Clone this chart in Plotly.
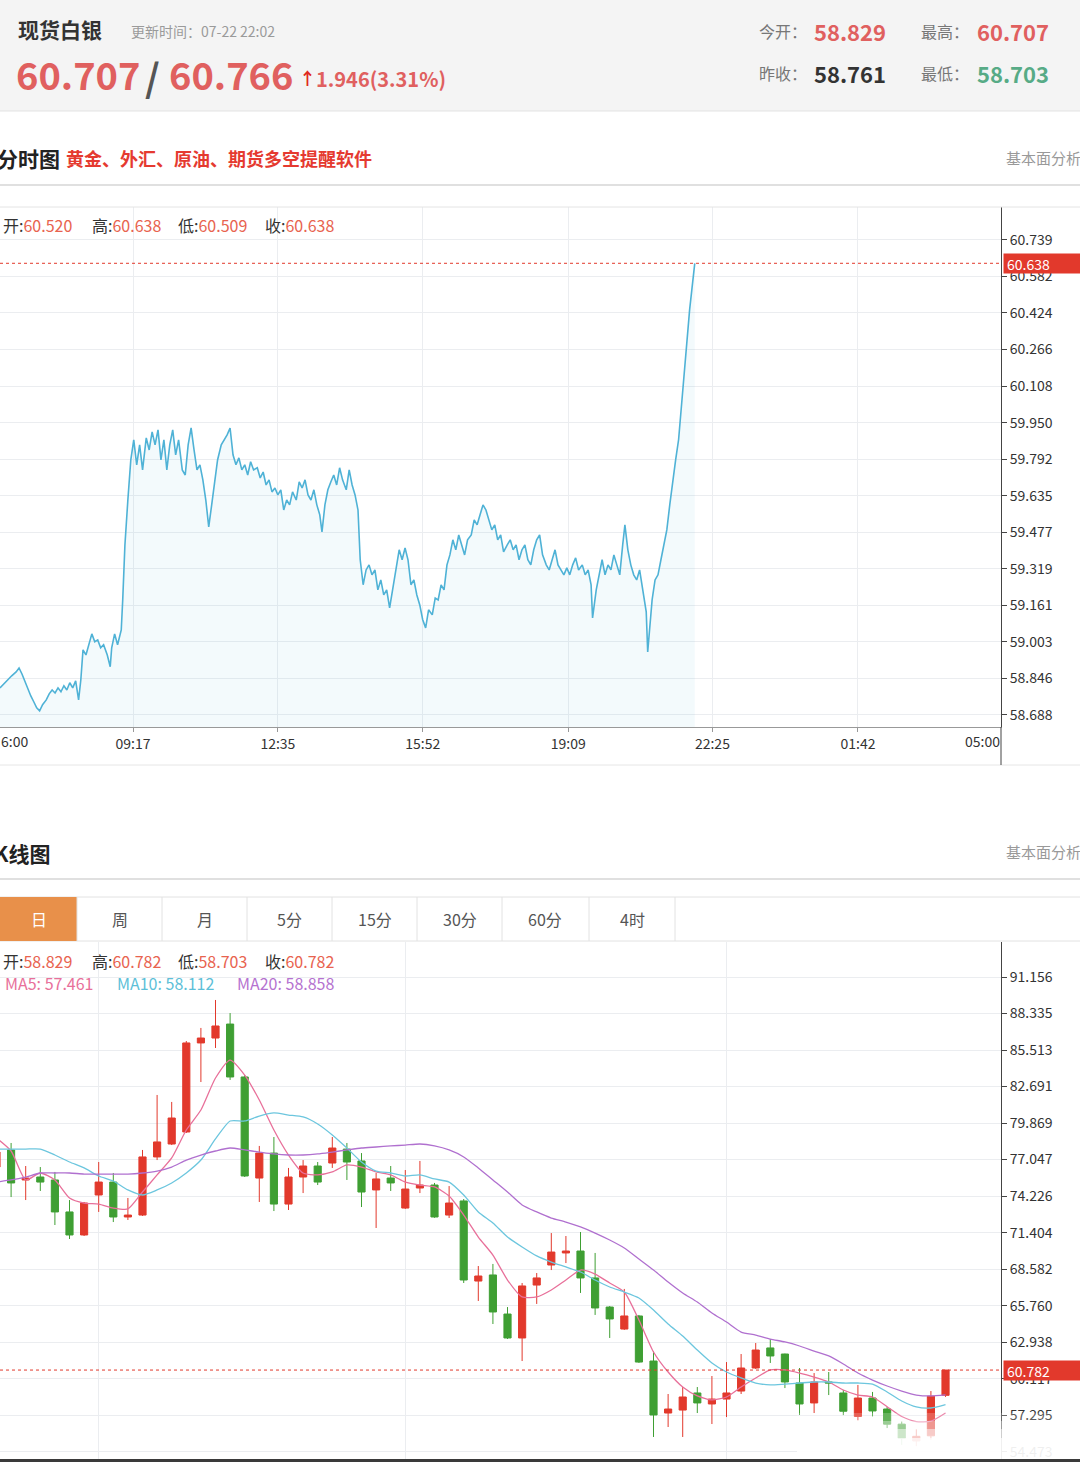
import plotly.graph_objects as go

W, H = 1080, 1462
FONT = "Noto Sans CJK SC, Noto Sans, sans-serif"

# ------------------------------------------------------------------ data
symbol_name = "现货白银"
update_time = "更新时间：07-22 22:02"
bid_price, ask_price = "60.707", "60.766"
change_text = "1.946(3.31%)"
today_open, high_price = "58.829", "60.707"
prev_close, low_price = "58.761", "58.703"

# intraday (minutes after 06:00) and price
intraday_minutes = [
    16, 21, 27, 32, 38, 42, 46, 50, 54, 58,
    62, 66, 70, 74, 79, 83, 87, 91, 95, 99,
    103, 107, 111, 115, 119, 123, 126, 129, 133, 137,
    141, 145, 149, 153, 157, 162, 166, 168, 172, 176,
    181, 183, 186, 190, 194, 198, 202, 206, 210, 215,
    219, 223, 227, 231, 235, 239, 243, 247, 251, 255,
    259, 264, 268, 272, 276, 280, 284, 288, 292, 296,
    300, 304, 308, 312, 317, 321, 325, 329, 333, 337,
    341, 345, 349, 353, 357, 361, 366, 370, 374, 378,
    382, 386, 390, 394, 398, 402, 406, 410, 414, 419,
    423, 427, 431, 435, 439, 443, 447, 451, 454, 458,
    462, 466, 470, 474, 478, 482, 487, 491, 495, 499,
    503, 506, 510, 514, 518, 522, 526, 530, 534, 538,
    542, 546, 550, 555, 559, 563, 567, 571, 575, 579,
    583, 587, 591, 595, 599, 604, 608, 612, 616, 620,
    624, 628, 632, 636, 640, 644, 648, 652, 657, 661,
    665, 669, 673, 677, 681, 685, 689, 693, 697, 701,
    706, 710, 714, 718, 722, 726, 730, 734, 738, 742,
    746, 750, 754, 759, 763, 767, 771, 775, 779, 783,
    787, 791, 795, 799, 803, 808, 812, 816, 820, 822,
    827, 831, 835, 839, 843, 847, 851, 855, 859, 863,
    866, 870, 874, 878, 882, 886, 890, 895, 897, 900,
    903, 907, 911, 915, 919, 923, 927, 931, 935, 939,
    944, 948, 952, 954, 957, 960, 961,
]
intraday_prices = [
    58.805, 58.822, 58.839, 58.857, 58.874, 58.891, 58.865, 58.831, 58.796, 58.770,
    58.745, 58.719, 58.706, 58.732, 58.753, 58.779, 58.796, 58.783, 58.805, 58.788,
    58.814, 58.796, 58.827, 58.805, 58.835, 58.753, 58.839, 58.969, 58.947, 58.991,
    59.038, 59.004, 59.012, 58.978, 58.991, 58.947, 58.896, 58.978, 59.038, 58.991,
    59.055, 59.185, 59.422, 59.616, 59.789, 59.876, 59.768, 59.854, 59.746, 59.884,
    59.832, 59.910, 59.854, 59.919, 59.789, 59.876, 59.746, 59.854, 59.919, 59.811,
    59.876, 59.746, 59.724, 59.854, 59.927, 59.832, 59.746, 59.768, 59.703, 59.616,
    59.500, 59.595, 59.703, 59.789, 59.854, 59.876, 59.897, 59.927, 59.811, 59.768,
    59.798, 59.746, 59.768, 59.724, 59.781, 59.746, 59.755, 59.711, 59.737, 59.681,
    59.703, 59.651, 59.668, 59.638, 59.660, 59.573, 59.616, 59.595, 59.651, 59.616,
    59.694, 59.668, 59.703, 59.638, 59.616, 59.660, 59.595, 59.552, 59.478, 59.595,
    59.660, 59.694, 59.724, 59.681, 59.755, 59.703, 59.660, 59.746, 59.681, 59.638,
    59.573, 59.358, 59.250, 59.314, 59.336, 59.293, 59.314, 59.228, 59.271, 59.206,
    59.228, 59.150, 59.228, 59.314, 59.401, 59.358, 59.409, 59.358, 59.250, 59.271,
    59.206, 59.163, 59.099, 59.064, 59.142, 59.120, 59.193, 59.185, 59.250, 59.228,
    59.336, 59.379, 59.444, 59.401, 59.465, 59.422, 59.379, 59.444, 59.465, 59.530,
    59.509, 59.552, 59.595, 59.573, 59.530, 59.487, 59.509, 59.444, 59.465, 59.392,
    59.422, 59.444, 59.401, 59.422, 59.358, 59.401, 59.422, 59.358, 59.336, 59.401,
    59.444, 59.465, 59.379, 59.336, 59.314, 59.358, 59.401, 59.336, 59.314, 59.293,
    59.323, 59.293, 59.336, 59.366, 59.314, 59.336, 59.293, 59.314, 59.250, 59.107,
    59.228, 59.293, 59.358, 59.293, 59.336, 59.314, 59.379, 59.336, 59.293, 59.422,
    59.509, 59.401, 59.336, 59.293, 59.271, 59.314, 59.228, 59.133, 58.960, 59.077,
    59.185, 59.271, 59.293, 59.358, 59.422, 59.487, 59.595, 59.703, 59.789, 59.876,
    60.070, 60.199, 60.350, 60.437, 60.523, 60.601, 60.638,
]
intraday_last = 60.638
intraday_ohlc = [("开", "60.520"), ("高", "60.638"), ("低", "60.509"), ("收", "60.638")]
time_tick_minutes = [197, 394, 591, 789, 985, 1183]
time_tick_labels = ["09:17", "12:35", "15:52", "19:09", "22:25", "01:42"]
intraday_yticks = [60.739, 60.582, 60.424, 60.266, 60.108, 59.950, 59.792,
                   59.635, 59.477, 59.319, 59.161, 59.003, 58.846, 58.688]

# daily K line
day_index = list(range(66))
k_open = [76.47, 77.79, 75.47, 75.70, 75.47, 73.00, 71.22, 74.31, 75.31, 72.61,
          72.76, 77.25, 78.25, 79.18, 86.06, 86.44, 87.52, 83.43, 75.62, 77.55,
          73.61, 75.70, 76.55, 76.78, 77.86, 76.94, 74.70, 75.62, 73.30, 74.85,
          75.08, 72.76, 73.85, 67.66, 68.13, 65.11, 63.26, 67.35, 68.90, 69.83,
          69.98, 67.90, 65.65, 63.95, 64.96, 61.48, 57.46, 57.69, 59.01, 58.16,
          58.54, 59.16, 60.94, 62.49, 62.02, 59.78, 58.24, 59.86, 59.01, 57.20,
          58.62, 57.77, 56.60, 55.30, 55.70, 58.829]
k_high = [77.94, 78.33, 76.55, 76.47, 76.09, 73.92, 73.77, 76.86, 76.01, 74.08,
          77.79, 82.04, 81.50, 86.21, 87.22, 89.38, 88.37, 83.58, 78.10, 78.79,
          76.40, 77.01, 76.86, 78.79, 78.33, 77.55, 76.01, 76.55, 76.24, 76.94,
          75.24, 75.00, 74.00, 68.82, 68.98, 65.65, 67.51, 68.28, 71.37, 71.14,
          71.45, 69.83, 65.73, 67.05, 65.04, 62.25, 58.93, 59.47, 59.47, 60.32,
          61.40, 62.02, 62.87, 63.18, 62.05, 60.94, 60.55, 60.63, 59.24, 59.63,
          59.09, 57.93, 56.80, 56.20, 59.16, 60.782]
k_low = [76.24, 74.15, 73.92, 74.62, 71.99, 70.91, 71.14, 73.00, 72.22, 72.38,
         72.69, 77.01, 78.17, 79.10, 83.04, 85.67, 83.20, 75.70, 73.77, 73.07,
         73.15, 74.46, 75.08, 76.40, 75.47, 73.38, 71.76, 74.62, 73.23, 74.46,
         72.55, 72.53, 67.51, 66.12, 64.34, 63.18, 61.48, 65.89, 68.51, 69.05,
         66.74, 65.04, 63.26, 63.88, 61.33, 55.61, 56.38, 55.61, 57.46, 56.61,
         57.15, 58.93, 60.86, 61.33, 59.39, 57.31, 57.46, 58.85, 57.30, 56.90,
         57.20, 56.30, 55.00, 54.90, 55.40, 58.703]
k_close = [77.63, 75.24, 75.62, 75.31, 73.00, 71.22, 73.69, 75.31, 72.61, 72.76,
           77.25, 78.41, 80.26, 86.06, 86.44, 87.37, 83.43, 75.78, 77.55, 73.61,
           75.70, 76.55, 75.31, 77.94, 76.86, 74.54, 75.55, 75.24, 74.77, 75.08,
           72.61, 73.69, 67.74, 68.05, 65.27, 63.26, 67.28, 67.90, 69.90, 69.98,
           67.90, 65.58, 64.73, 64.96, 61.40, 57.31, 57.77, 58.70, 58.24, 58.54,
           59.01, 60.94, 62.33, 61.87, 59.86, 58.16, 59.86, 59.78, 57.60, 58.62,
           57.62, 56.60, 55.50, 55.66, 58.761, 60.782]
ma5 = [78.71, 77.71, 75.47, 76.01, 75.47, 74.08, 73.69, 73.61, 73.30, 73.23,
       74.54, 75.86, 77.17, 79.33, 80.88, 83.35, 84.74, 83.58, 81.65, 79.33,
       77.40, 76.01, 75.86, 76.09, 76.63, 76.47, 76.09, 75.86, 75.31, 75.08,
       74.93, 74.23, 72.76, 71.06, 69.67, 67.74, 66.43, 66.43, 66.97, 67.74,
       68.51, 68.20, 67.51, 66.81, 64.65, 62.18, 60.63, 59.47, 58.78, 58.47,
       58.70, 59.47, 60.17, 60.79, 60.79, 60.55, 60.24, 59.86, 59.24, 58.85,
       58.70, 57.95, 57.19, 56.80, 56.83, 57.461]
ma10 = [77.86, 77.86, 77.86, 77.86, 77.40, 76.86, 76.40, 75.78, 75.39, 74.70,
        74.31, 74.70, 75.24, 76.01, 77.01, 78.64, 80.03, 80.03, 80.41, 80.65,
        80.49, 80.34, 79.80, 78.95, 77.94, 76.86, 76.16, 76.01, 75.78, 75.86,
        75.55, 75.31, 74.31, 73.00, 72.15, 71.06, 70.29, 69.60, 69.13, 68.75,
        68.36, 67.74, 67.20, 66.81, 66.35, 65.42, 64.34, 63.41, 62.33, 61.33,
        60.63, 60.17, 59.78, 59.63, 59.70, 59.78, 59.86, 59.86, 59.78, 59.78,
        59.70, 59.09, 58.39, 57.93, 57.85, 58.112]
ma20 = [75.31, 75.47, 75.70, 76.01, 76.01, 76.01, 75.93, 75.93, 75.93, 75.93,
        76.01, 76.16, 76.47, 77.01, 77.40, 77.71, 77.94, 77.79, 77.63, 77.48,
        77.40, 77.40, 77.48, 77.63, 77.79, 77.94, 78.02, 78.10, 78.17, 78.25,
        78.10, 77.79, 77.25, 76.40, 75.47, 74.54, 73.54, 73.00, 72.53, 72.22,
        71.84, 71.37, 70.83, 70.21, 69.36, 68.51, 67.59, 66.74, 66.04, 65.19,
        64.49, 63.72, 63.49, 63.18, 62.95, 62.64, 62.25, 61.87, 61.25, 60.55,
        60.01, 59.55, 59.16, 58.85, 58.78, 58.858]
k_last = 60.782
k_ohlc = [("开", "58.829"), ("高", "60.782"), ("低", "58.703"), ("收", "60.782")]
ma_labels = [("MA5: 57.461", "#e8709a"), ("MA10: 58.112", "#5dbfd8"), ("MA20: 58.858", "#b572d0")]
month_start_index = [7, 28, 50]
k_yticks = [91.156, 88.335, 85.513, 82.691, 79.869, 77.047, 74.226, 71.404,
            68.582, 65.760, 62.938, 60.117, 57.295, 54.473]
tab_labels = ["日", "周", "月", "5分", "15分", "30分", "60分", "4时"]

# ------------------------------------------------------------------ style
RED = "#e2392c"
GREEN = "#3f9f33"
TXT_RED = "#e0605f"
VAL_RED = "#e8634f"
GRID = "#ebedf0"
LINE_BLUE = "#4fb2d6"


def px(x):
    return x / W


def py(y):
    return 1 - y / H


fig = go.Figure()

fig.add_trace(go.Scatter(
    x=intraday_minutes, y=intraday_prices, mode="lines",
    line=dict(color=LINE_BLUE, width=1.6), fill="tozeroy",
    fillcolor="rgba(79,178,214,0.07)", xaxis="x", yaxis="y",
    hoverinfo="skip", showlegend=False))

fig.add_trace(go.Candlestick(
    x=day_index, open=k_open, high=k_high, low=k_low, close=k_close,
    xaxis="x2", yaxis="y2", whiskerwidth=0,
    increasing=dict(line=dict(color=RED, width=1), fillcolor=RED),
    decreasing=dict(line=dict(color=GREEN, width=1), fillcolor=GREEN),
    hoverinfo="skip", showlegend=False))

for series, color in [(ma5, "#e8709a"), (ma10, "#6cc6de"), (ma20, "#b070cf")]:
    fig.add_trace(go.Scatter(
        x=day_index, y=series, mode="lines",
        line=dict(color=color, width=1.3, shape="spline", smoothing=0.6),
        xaxis="x2", yaxis="y2", hoverinfo="skip", showlegend=False))

tickfont = dict(family=FONT, size=14, color="#333")

shapes = [
    dict(type="rect", xref="paper", yref="paper", x0=0, x1=1, y0=py(111), y1=1,
         fillcolor="#f4f4f4", line=dict(width=0), layer="below"),
    dict(type="line", xref="paper", yref="paper", x0=0, x1=1, y0=py(111), y1=py(111),
         line=dict(color="#e3e3e3", width=1)),
    dict(type="line", xref="paper", yref="paper", x0=0, x1=1, y0=py(185), y1=py(185),
         line=dict(color="#d6d6d6", width=1.5)),
    dict(type="line", xref="paper", yref="paper", x0=0, x1=1, y0=py(207), y1=py(207),
         line=dict(color="#e4e4e4", width=1)),
    dict(type="line", xref="paper", yref="paper", x0=0, x1=1, y0=py(765), y1=py(765),
         line=dict(color="#e6e6e6", width=1)),
    dict(type="line", xref="paper", yref="paper", x0=px(1001), x1=px(1001), y0=py(727), y1=py(765),
         line=dict(color="#444", width=1)),
    dict(type="line", xref="paper", yref="paper", x0=0, x1=1, y0=py(879), y1=py(879),
         line=dict(color="#d6d6d6", width=1.5)),
    dict(type="line", xref="paper", yref="paper", x0=0, x1=1, y0=py(897), y1=py(897),
         line=dict(color="#e2e2e2", width=1)),
    dict(type="line", xref="paper", yref="paper", x0=0, x1=1, y0=py(941), y1=py(941),
         line=dict(color="#e2e2e2", width=1)),
    dict(type="rect", xref="paper", yref="paper", x0=0, x1=px(77), y0=py(941), y1=py(897),
         fillcolor="#e8904a", line=dict(width=0)),
    dict(type="line", xref="paper", yref="y", x0=0, x1=px(1001), y0=intraday_last, y1=intraday_last,
         line=dict(color=RED, width=1, dash="dot")),
    dict(type="line", xref="paper", yref="y2", x0=0, x1=px(1001), y0=k_last, y1=k_last,
         line=dict(color=RED, width=1, dash="dot")),
]
tab_edges = [0, 77, 162, 247, 332, 417, 502, 589, 675]
for xe in tab_edges[1:]:
    shapes.append(dict(type="line", xref="paper", yref="paper", x0=px(xe), x1=px(xe),
                       y0=py(941), y1=py(897), line=dict(color="#e2e2e2", width=1)))
# faded watermark at bottom right
for top, op in [(1413, 0.2), (1421, 0.35), (1429, 0.5), (1438, 0.7)]:
    shapes.append(dict(type="rect", xref="paper", yref="paper", x0=px(797), x1=1,
                       y0=0, y1=py(top), fillcolor="white", opacity=op,
                       line=dict(width=0), layer="above"))
shapes.append(dict(type="rect", xref="paper", yref="paper", x0=0, x1=1, y0=0, y1=py(1459),
                   fillcolor="#3a3a3a", line=dict(width=0), layer="above"))


def label(x, y, text, size, color, bold=False, anchor="left"):
    return dict(x=px(x), y=py(y), xref="paper", yref="paper",
                text=f"<b>{text}</b>" if bold else text, showarrow=False,
                xanchor=anchor, yanchor="middle",
                font=dict(family=FONT, size=size, color=color))


ann = [
    label(16, 29, symbol_name, 21, "#333", bold=True),
    label(129, 31, update_time, 14, "#9a9a9a"),
    label(14, 74, bid_price, 38, TXT_RED, bold=True),
    label(143, 75, "/", 38, "#555", bold=True),
    label(167, 74, ask_price, 38, TXT_RED, bold=True),
    label(297, 78, "↑", 17, "#e02a20", bold=True),
    label(314, 79, change_text, 20, TXT_RED, bold=True),
    label(757, 31, "今开：", 16, "#777"),
    label(812, 31, today_open, 22, TXT_RED, bold=True),
    label(919, 31, "最高：", 16, "#777"),
    label(975, 31, high_price, 22, TXT_RED, bold=True),
    label(757, 73, "昨收：", 16, "#777"),
    label(812, 73, prev_close, 22, "#333", bold=True),
    label(919, 73, "最低：", 16, "#777"),
    label(975, 73, low_price, 22, "#57ab86", bold=True),
    label(-5, 158, "分时图", 21, "#222", bold=True),
    label(64, 158, "黄金、外汇、原油、期货多空提醒软件", 18, "#e53a30", bold=True),
    label(1004, 157, "基本面分析", 15, "#999"),
    label(-8, 853, "K线图", 21, "#222", bold=True),
    label(1004, 851, "基本面分析", 15, "#999"),
    label(-1, 741, "6:00", 14, "#333"),
    label(982, 741, "05:00", 14, "#333", anchor="center"),
]
for (name, val), xx in zip(intraday_ohlc, [1, 90, 176, 263]):
    ann.append(label(xx, 225, f"{name}:<span style='color:{VAL_RED}'>{val}</span>", 16, "#333"))
for (name, val), xx in zip(k_ohlc, [1, 90, 176, 263]):
    ann.append(label(xx, 961, f"{name}:<span style='color:{VAL_RED}'>{val}</span>", 16, "#333"))
for (txt, col), xx in zip(ma_labels, [3, 115, 235]):
    ann.append(label(xx, 983, txt, 16, col))
for i, t in enumerate(tab_labels):
    cx = (tab_edges[i] + tab_edges[i + 1]) / 2
    ann.append(label(cx, 919, t, 16, "white" if i == 0 else "#555", anchor="center"))
for val, yy in [(intraday_last, 264), (k_last, 1370.5)]:
    ann.append(dict(x=px(1003), y=py(yy), xref="paper", yref="paper", text=f"{val:.3f}",
                    showarrow=False, xanchor="left", yanchor="middle", align="left",
                    bgcolor=RED, borderpad=3, width=71, height=13,
                    font=dict(family=FONT, size=14, color="white")))

fig.update_layout(
    width=W, height=H, margin=dict(l=0, r=0, t=0, b=0),
    paper_bgcolor="white", plot_bgcolor="white", showlegend=False,
    font=dict(family=FONT),
    xaxis=dict(domain=[0, px(1001)], anchor="y", range=[16.1, 1377.5],
               tickvals=time_tick_minutes, ticktext=time_tick_labels,
               showgrid=True, gridcolor=GRID, zeroline=False,
               showline=True, linecolor="#999", ticks="outside", ticklen=4,
               tickcolor="#999", tickfont=tickfont),
    yaxis=dict(domain=[py(727), py(207)], anchor="x", side="right",
               range=[58.636, 60.881], tickvals=intraday_yticks,
               ticktext=[f"{v:.3f}" for v in intraday_yticks],
               showgrid=True, gridcolor=GRID, zeroline=False,
               showline=True, linecolor="#444", ticks="outside", ticklen=5,
               tickcolor="#444", tickfont=tickfont),
    xaxis2=dict(domain=[0, px(1001)], anchor="y2", range=[0.24, 68.8],
                tickvals=month_start_index, showticklabels=False,
                showgrid=True, gridcolor=GRID, zeroline=False, showline=False,
                rangeslider=dict(visible=False)),
    yaxis2=dict(domain=[0, py(942)], anchor="x2", side="right",
                range=[53.676, 93.861], tickvals=k_yticks,
                ticktext=[f"{v:.3f}" for v in k_yticks],
                showgrid=True, gridcolor=GRID, zeroline=False,
                showline=True, linecolor="#444", ticks="outside", ticklen=5,
                tickcolor="#444", tickfont=tickfont),
    shapes=shapes, annotations=ann,
)

fig.write_html("out.html", config={"displayModeBar": False})
